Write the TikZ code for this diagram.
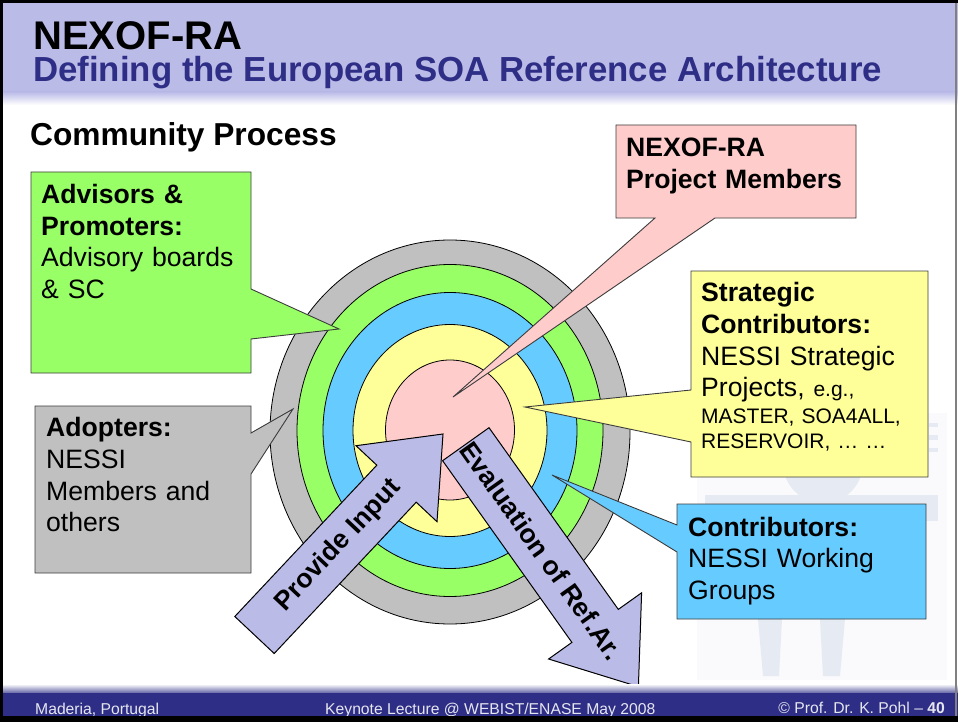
\documentclass[tikz,border=0pt]{standalone}
\usepackage{fontspec}
\setmainfont{Liberation Sans}
\usetikzlibrary{calc}
\definecolor{lav}{RGB}{187,187,232}
\definecolor{navy}{RGB}{46,46,134}
\definecolor{ringgray}{RGB}{192,192,192}
\definecolor{ringgreen}{RGB}{153,255,102}
\definecolor{ringblue}{RGB}{102,204,255}
\definecolor{ringyellow}{RGB}{255,255,153}
\definecolor{ringpink}{RGB}{255,204,204}
\definecolor{wm}{RGB}{230,234,242}
\definecolor{wmbg}{RGB}{250,250,252}
\definecolor{edge}{RGB}{60,60,60}
\definecolor{foottext}{RGB}{230,230,240}
\begin{document}
\begin{tikzpicture}[x=1pt,y=-1pt,
  ring/.style={draw=black, line width=0.8pt},
  callout/.style={draw=edge, line width=0.9pt, line join=miter},
  boxtext/.style={anchor=base west, inner sep=0pt, align=left, text width=#1,
    font=\fontsize{26.6}{31.7}\selectfont},
  smalltext/.style={anchor=base west, inner sep=0pt, align=left, text width=#1,
    font=\fontsize{21}{25}\selectfont},
  bigarrow/.style={draw=black, line width=1pt, fill=lav, line join=miter},
  arrowshadow/.style={fill=black, fill opacity=0.14},
  arrowtext/.style={font=\bfseries\fontsize{26.6}{30}\selectfont, inner sep=0pt},
  foot/.style={font=\fontsize{15.7}{18}\selectfont, text=foottext, inner sep=0pt}
]
\useasboundingbox (0,0) rectangle (958,722);
\fill[white] (0,0) rectangle (958,722);

% header band
\fill[lav] (0,0) rectangle (958,92);
\shade[top color=lav, bottom color=white] (0,92) rectangle (958,105);
\node[anchor=base west, inner sep=0pt, font=\bfseries\fontsize{40}{48}\selectfont] (title) at (33,50) {NEXOF-RA};
\node[anchor=base west, inner sep=0pt, text=navy, font=\bfseries\fontsize{34.8}{40}\selectfont] (subtitle) at (33,82) {Defining the European SOA Reference Architecture};
\node[anchor=base west, inner sep=0pt, font=\bfseries\fontsize{31.7}{38}\selectfont] (community) at (30,146) {Community Process};

% watermark figure
\fill[wmbg] (697,413) rectangle (947,680);
\fill[wm] (823,463) circle [radius=40pt];
\fill[wm] (705,495) -- (938,495) -- (938,521) -- (705,521) -- cycle;
\fill[wm] (758,619) -- (782,619) -- (779,676) -- (763,676) -- cycle;
\fill[wm] (820,619) -- (845,619) -- (840,676) -- (823,676) -- cycle;
\fill[wm] (929,423) rectangle (938,427);
\fill[wm] (929,435) rectangle (938,440);
\fill[wm] (929,448) rectangle (938,452);

% rings
\path[ring, fill=ringgray]   (450,432) ellipse [x radius=180pt, y radius=192pt];
\path[ring, fill=ringgreen]  (450,430.5) ellipse [x radius=153pt, y radius=166pt];
\path[ring, fill=ringblue]   (450,430.5) ellipse [x radius=127pt, y radius=138pt];
\path[ring, fill=ringyellow] (450,430.5) ellipse [x radius=97pt, y radius=106pt];
\path[ring, fill=ringpink]   (450,430) ellipse [x radius=64.5pt, y radius=70pt];

% callouts
\path[callout, fill=ringgreen] (31,172) -- (251,172) -- (251,289) -- (339,329) -- (251,339) -- (251,373) -- (31,373) -- cycle;
\path[callout, fill=ringgray] (35,406) -- (251,406) -- (251,433) -- (293,409) -- (251,474) -- (251,573) -- (35,573) -- cycle;
\path[callout, fill=ringpink] (616,125) -- (856,125) -- (856,218) -- (715,218) -- (453,397) -- (655,218) -- (616,218) -- cycle;
\path[callout, fill=ringyellow] (691,271) -- (928,271) -- (928,477) -- (691,477) -- (691,442) -- (525,407) -- (691,390) -- cycle;
\path[callout, fill=ringblue] (677,504) -- (926,504) -- (926,619) -- (677,619) -- (677,552) -- (552,475) -- (677,525) -- cycle;

\node[boxtext=210pt] (advisors) at (41,203.5) {\textbf{Advisors \&}\\\textbf{Promoters:}\\Advisory boards\\\& SC};
\node[boxtext=205pt] (adopters) at (46,436.7) {\textbf{Adopters:}\\NESSI\\Members and\\others};
\node[boxtext=230pt] (members) at (626,156.7) {\textbf{NEXOF-RA}\\\textbf{Project Members}};
\node[boxtext=227pt] (strategic) at (701,301.7) {\textbf{Strategic}\\\textbf{Contributors:}\\NESSI Strategic\\Projects, {\fontsize{21}{25}\selectfont e.g.,}};
\node[smalltext=227pt] (projects) at (701,423.3) {MASTER, SOA4ALL,\\RESERVOIR, … …};
\node[boxtext=238pt] (contrib) at (688,536) {\textbf{Contributors:}\\NESSI Working\\Groups};

% arrow geometry
\coordinate (pA1) at (234.8,616.5);
\coordinate (pA2) at (274.2,653.5);
\coordinate (pS2) at (416.2,502.2);
\coordinate (pB2) at (437.0,521.7);
\coordinate (pP)  at (443.0,434.0);
\coordinate (pB1) at (356.0,445.7);
\coordinate (pS1) at (376.8,465.2);
\coordinate (eA2) at (489.0,427.7);
\coordinate (eA1) at (442.6,460.7);
\coordinate (eS1) at (571.9,642.4);
\coordinate (eB1) at (548.6,659.0);
\coordinate (eP)  at (638.4,686.7);
\coordinate (eB2) at (641.6,592.8);
\coordinate (eS2) at (618.3,609.4);

% shadows
\foreach \s in {3,5,7} {
  \path[arrowshadow, xshift=\s pt, yshift=\s pt] (pA1) -- (pA2) -- (pS2) -- (pB2) -- (pP) -- (pB1) -- (pS1) -- cycle;
  \path[arrowshadow, xshift=\s pt, yshift=\s pt] (eA2) -- (eA1) -- (eS1) -- (eB1) -- (eP) -- (eB2) -- (eS2) -- cycle;
}
\path[bigarrow] (pA1) -- (pA2) -- (pS2) -- (pB2) -- (pP) -- (pB1) -- (pS1) -- cycle;
\path[bigarrow] (eA2) -- (eA1) -- (eS1) -- (eB1) -- (eP) -- (eB2) -- (eS2) -- cycle;
\node[arrowtext, rotate=46.8] (provide) at (338.4,545.6) {Provide Input};
\node[arrowtext, rotate=-54.6] (evaluation) at (541.5,550.6) {Evaluation of Ref.Ar.};

% footer
\shade[top color=white, bottom color=navy!75] (0,684) rectangle (958,693);
\fill[navy] (0,693) rectangle (958,716);
\node[foot, anchor=base west] (place) at (35,714.5) {Maderia, Portugal};
\node[foot, anchor=base west] (lecture) at (325,714.5) {Keynote Lecture @ WEBIST/ENASE May 2008};
\node[foot, anchor=base east] (author) at (945,713) {© Prof. Dr. K. Pohl – \textbf{40}};

% frame
\fill[black] (0,0) rectangle (958,3);
\fill[black] (0,0) rectangle (2.5,722);
\fill[black] (0,716) rectangle (958,722);
\draw[gray, line width=1.5pt] (956,3) -- (956,716);
\end{tikzpicture}
\end{document}
